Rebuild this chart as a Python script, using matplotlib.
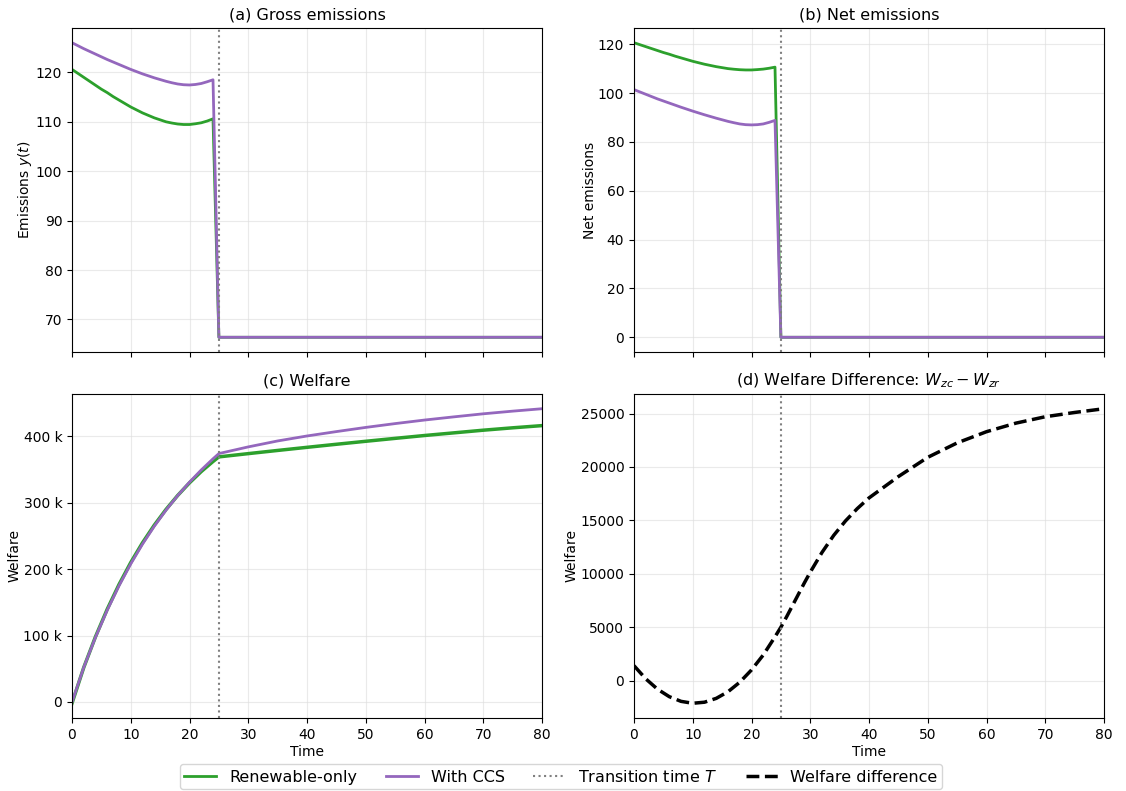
import matplotlib
matplotlib.use("Agg")
import matplotlib.pyplot as plt
from matplotlib.ticker import EngFormatter
from matplotlib.lines import Line2D

# ---------------- data ----------------
t_em = [0, 1, 2, 3, 4, 5, 6, 7, 8, 9, 10, 11, 12, 13, 14, 15, 16, 17, 18, 19,
        20, 21, 22, 23, 24, 25, 80]

gross_renewable = [120.6, 119.8, 119.0, 118.2, 117.4, 116.6, 115.9, 115.1, 114.4,
                   113.7, 113.0, 112.4, 111.8, 111.3, 110.8, 110.4, 110.0, 109.75,
                   109.55, 109.45, 109.45, 109.6, 109.8, 110.15, 110.6, 66.4, 66.4]
gross_ccs = [126.0, 125.4, 124.8, 124.25, 123.7, 123.15, 122.6, 122.1, 121.6,
             121.1, 120.6, 120.15, 119.7, 119.3, 118.9, 118.55, 118.2, 117.9,
             117.65, 117.5, 117.45, 117.55, 117.75, 118.1, 118.5, 66.4, 66.4]

net_renewable = [120.6, 119.8, 119.0, 118.2, 117.4, 116.6, 115.9, 115.1, 114.4,
                 113.7, 113.0, 112.4, 111.8, 111.3, 110.8, 110.4, 110.0, 109.75,
                 109.55, 109.45, 109.45, 109.6, 109.8, 110.15, 110.6, 0.0, 0.0]
net_ccs = [101.4, 100.45, 99.5, 98.55, 97.6, 96.75, 95.9, 95.05, 94.2, 93.4,
           92.6, 91.85, 91.1, 90.4, 89.7, 89.05, 88.4, 87.85, 87.35, 87.05,
           86.95, 87.05, 87.35, 88.0, 88.8, 0.0, 0.0]

t_w = [0, 2, 4, 6, 8, 10, 12, 14, 16, 18, 20, 22, 24, 25,
       30, 35, 40, 45, 50, 55, 60, 65, 70, 75, 80]
welfare_renewable = [-2000, 51900, 98300, 139800, 176900, 210100, 239800, 266300,
                     290000, 311200, 330100, 347100, 362200, 369200,
                     374100, 378900, 383600, 388200, 392700, 397100, 401400,
                     405400, 409400, 413000, 416300]
welfare_ccs = [-600, 52070, 97500, 138300, 174960, 207980, 237780, 264640,
               288960, 311050, 331100, 349500, 366300, 374200,
               384250, 393200, 400700, 407300, 413600, 419350, 424700,
               429500, 434100, 438100, 441750]

t_diff = [0, 2, 4, 6, 8, 10, 12, 14, 16, 18, 20, 22, 24, 25, 26, 27, 28, 29, 30,
          32, 34, 36, 38, 40, 45, 50, 55, 60, 65, 70, 75, 80]
welfare_diff = [1400, 170, -800, -1500, -1940, -2120, -2020, -1660, -1040, -150,
                1000, 2400, 4100, 5000, 6000, 7050, 8100, 9150, 10150,
                12000, 13600, 14950, 16100, 17100, 19100, 20900, 22250, 23300,
                24100, 24700, 25100, 25450]

T_transition = 25

# ---------------- styling ----------------
C_REN = "#2ca02c"
C_CCS = "#9467bd"
LW = 2.0

fig = plt.figure(figsize=(11.26, 7.91), dpi=100)
W, H = 1126, 791

def ax_at(l, t, r, b):
    return fig.add_axes([l / W, 1 - b / H, (r - l) / W, (b - t) / H])

ax_a = ax_at(72, 28, 542, 352)
ax_b = ax_at(634, 28, 1104, 352)
ax_c = ax_at(72, 394, 542, 718)
ax_d = ax_at(634, 394, 1104, 718)

for ax in (ax_a, ax_b, ax_c, ax_d):
    ax.grid(True, color="#dddddd", alpha=0.6, linewidth=0.8)
    ax.set_xlim(0, 80)
    ax.set_xticks(range(0, 81, 10))
    ax.tick_params(labelsize=10)

# (a)
ax_a.plot(t_em, gross_renewable, color=C_REN, lw=LW)
ax_a.plot(t_em, gross_ccs, color=C_CCS, lw=LW)
ax_a.axvline(T_transition, color="gray", ls=":", lw=1.5)
ax_a.set_title("(a) Gross emissions", fontsize=11.5)
ax_a.set_ylabel("Emissions $y(t)$", fontsize=10, labelpad=1)
ax_a.tick_params(labelbottom=False)

# (b)
ax_b.plot(t_em, net_renewable, color=C_REN, lw=LW)
ax_b.plot(t_em, net_ccs, color=C_CCS, lw=LW)
ax_b.axvline(T_transition, color="gray", ls=":", lw=1.5)
ax_b.set_title("(b) Net emissions", fontsize=11.5)
ax_b.set_ylabel("Net emissions", fontsize=10, labelpad=1)
ax_b.tick_params(labelbottom=False)

# (c)
ax_c.plot(t_w, welfare_renewable, color=C_REN, lw=2.5)
ax_c.plot(t_w, welfare_ccs, color=C_CCS, lw=LW)
ax_c.axvline(T_transition, color="gray", ls=":", lw=1.5)
ax_c.set_title("(c) Welfare", fontsize=11.5)
ax_c.set_ylabel("Welfare", fontsize=10, labelpad=1)
ax_c.set_xlabel("Time", fontsize=10, labelpad=2)
ax_c.yaxis.set_major_formatter(EngFormatter())

# (d)
ax_d.plot(t_diff, welfare_diff, color="black", ls="--", lw=2.5)
ax_d.axvline(T_transition, color="gray", ls=":", lw=1.5)
ax_d.set_title("(d) Welfare Difference: $W_{zc} - W_{zr}$", fontsize=11.5)
ax_d.set_ylabel("Welfare", fontsize=10, labelpad=1)
ax_d.set_xlabel("Time", fontsize=10, labelpad=2)

handles = [
    Line2D([], [], color=C_REN, lw=LW, label="Renewable-only"),
    Line2D([], [], color=C_CCS, lw=LW, label="With CCS"),
    Line2D([], [], color="gray", ls=":", lw=1.5, label="Transition time $T$"),
    Line2D([], [], color="black", ls="--", lw=2.5, label="Welfare difference"),
]
fig.legend(handles=handles, loc="lower center", ncol=4, fontsize=11.5,
           bbox_to_anchor=(561 / W, 0.0), frameon=True, borderaxespad=0.1,
           borderpad=0.3, columnspacing=1.8, handletextpad=0.8,
           handlelength=2.0)

fig.savefig("out.png", dpi=100)
